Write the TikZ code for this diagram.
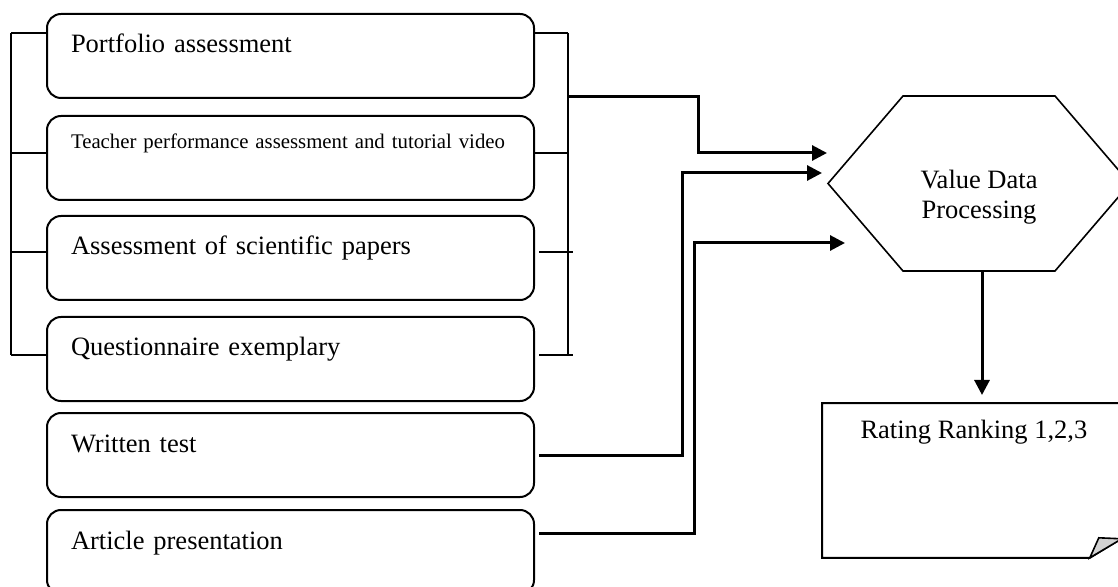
\documentclass[tikz,border=0pt]{standalone}
\usepackage{fontspec}
\setmainfont{Liberation Serif}
\usetikzlibrary{arrows.meta}

\begin{document}
\begin{tikzpicture}
[x=0.5pt,y=-0.5pt
,bx/.style={draw,line width=1pt,rounded corners=7pt,anchor=north west
  ,minimum width=243.5pt,minimum height=42pt,text width=219.5pt,align=left
  ,inner xsep=12pt,inner ysep=9.5pt,text height=10pt,text depth=13pt
  ,font=\fontsize{13.25}{15}\selectfont}
,smallbx/.style={bx,text height=7pt,text depth=16pt,font=\fontsize{10.4}{12}\selectfont}
,brk/.style={line width=1pt}
,ln/.style={line width=1.5pt}
,ar/.style={ln,arrows={-Triangle[length=7.5pt,width=7.5pt]}}
,rk/.style={anchor=north west,minimum width=151.5pt,minimum height=77pt
  ,inner ysep=8pt,text height=9.5pt,text depth=51.5pt
  ,font=\fontsize{13.25}{15}\selectfont}
]
\useasboundingbox (0,0) rectangle (1118,587);
\clip (0,0) rectangle (1118,587);
% assessment boxes
\node[bx] (b1) at (46,13) {Portfolio assessment};
\node[smallbx] (b2) at (46,115) {\mbox{Teacher performance assessment and tutorial video}};
\node[bx] (b3) at (46,215) {Assessment of scientific papers};
\node[bx] (b4) at (46,316) {Questionnaire exemplary};
\node[bx] (b5) at (46,412) {Written test};
\node[bx] (b6) at (46,509) {Article presentation};
% brackets
\foreach \b/\y in {b1/33,b2/153,b3/252,b4/355}
  {\coordinate (l\b) at (11,\y);
   \draw[brk] (l\b) -- (l\b -| \b.west);}
\draw[brk] (lb1) -- (lb4);
\foreach \b/\y in {b1/33,b2/153}
  {\coordinate (r\b) at (568,\y);
   \draw[brk] (r\b -| \b.east) -- (r\b);}
\foreach \b/\y in {b3/252,b4/355}
  {\coordinate (r\b) at (573,\y);
   \draw[brk,shorten <=2pt] (r\b -| \b.east) -- (r\b);}
\draw[brk] (rb1) -- (568,355);
% processing
\coordinate (hc) at (979,183.5);
\draw[line width=0.8pt] (hc) ++(-151,0) -- ++(75,-87.5) -- ++(152,0) -- ++(75,87.5)
  -- ++(-75,87.5) -- ++(-152,0) -- cycle;
\node[align=center,inner sep=0pt,font=\fontsize{13.25}{15}\selectfont] (proc) at (979,197) {Value Data\\Processing};
\coordinate (procS) at (982,271);
\coordinate (in1) at (827,153);
\coordinate (in2) at (822,173);
\coordinate (in3) at (845,243);
\coordinate (rm) at (568,97);
\draw[ar] (rm) -- ++(130,0) |- (in1);
\draw[ar,shorten <=2pt] (b5.east) -- ++(147,0) |- (in2);
\draw[ar,shorten <=2pt] ([yshift=9.5pt]b6.east) -- ++(159,0) |- (in3);
% ranking
\node[rk] (rank) at (822,403) {Rating Ranking 1,2,3};
\draw[line width=1pt] (rank.north west) -- (rank.north east) -- ([yshift=11pt]rank.south east)
  -- ([xshift=-18pt]rank.south east) -- (rank.south west) -- cycle;
\filldraw[fill=gray!35,line width=0.8pt] ([xshift=-18pt]rank.south east)
  -- ([xshift=-13.5pt,yshift=10pt]rank.south east) -- ([xshift=-2pt,yshift=9.5pt]rank.south east) -- cycle;
\draw[ar,shorten >=4pt] (procS) -- (procS |- rank.north);
\end{tikzpicture}
\end{document}
